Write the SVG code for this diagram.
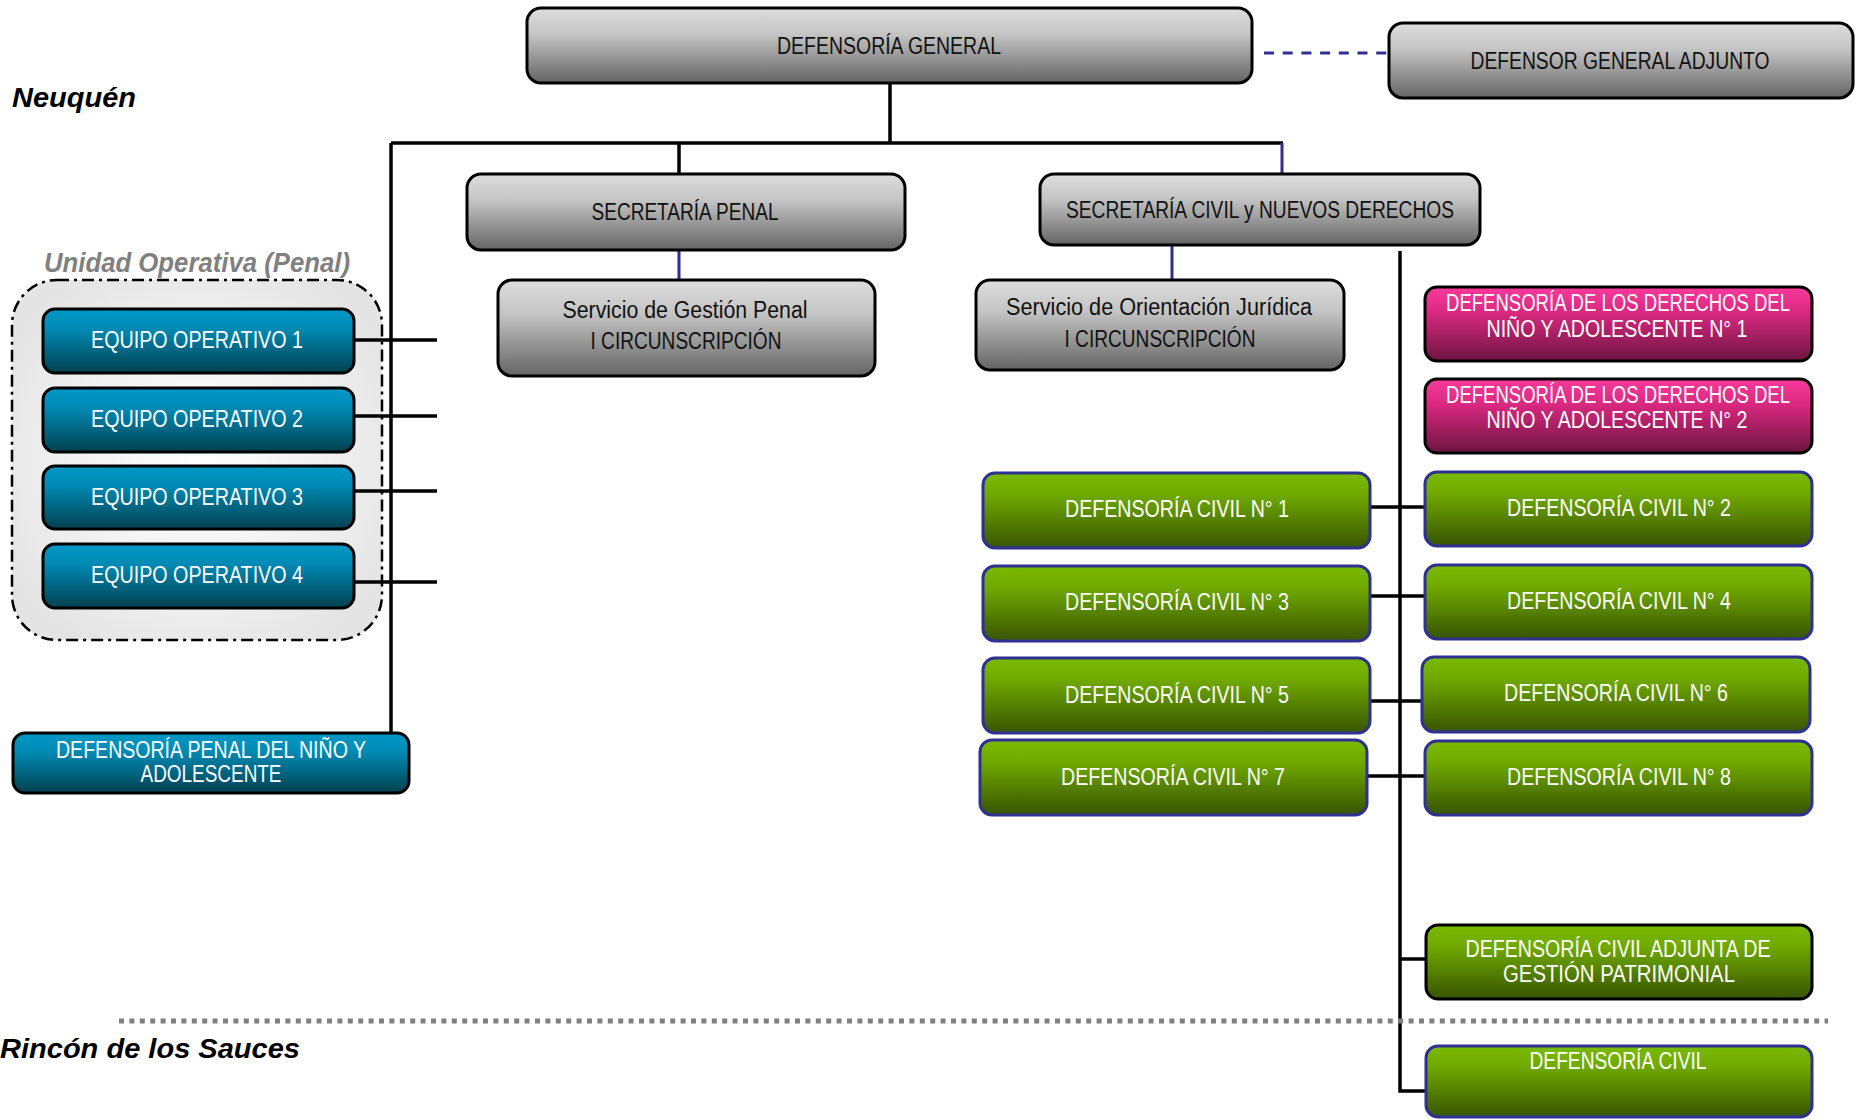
<svg xmlns="http://www.w3.org/2000/svg" width="1858" height="1120" viewBox="0 0 1858 1120">
<defs>
<linearGradient id="gGray" x1="0" y1="0" x2="0" y2="1"><stop offset="0" stop-color="#dedede"/><stop offset="0.35" stop-color="#c4c4c4"/><stop offset="1" stop-color="#646464"/></linearGradient>
<linearGradient id="gBlue" x1="0" y1="0" x2="0" y2="1"><stop offset="0" stop-color="#0098c6"/><stop offset="0.3" stop-color="#008bb5"/><stop offset="1" stop-color="#00404f"/></linearGradient>
<linearGradient id="gPink" x1="0" y1="0" x2="0" y2="1"><stop offset="0" stop-color="#fb3a9c"/><stop offset="0.35" stop-color="#d8287f"/><stop offset="1" stop-color="#6c1440"/></linearGradient>
<linearGradient id="gGreen" x1="0" y1="0" x2="0" y2="1"><stop offset="0" stop-color="#7abb00"/><stop offset="0.3" stop-color="#6fa800"/><stop offset="1" stop-color="#385400"/></linearGradient>
<radialGradient id="gCont" cx="0.5" cy="0.5" r="0.6"><stop offset="0" stop-color="#ffffff"/><stop offset="0.55" stop-color="#f2f2f2"/><stop offset="1" stop-color="#e4e4e4"/></radialGradient>
</defs>
<style>
.box{stroke:#000;stroke-width:3}
.gray{fill:url(#gGray)}
.blue{fill:url(#gBlue)}
.pink{fill:url(#gPink)}
.green{fill:url(#gGreen);stroke:#2e3192}
.greenk{fill:url(#gGreen)}
text{font-family:"Liberation Sans",Arial,sans-serif}
.t{font-size:23px;text-anchor:middle}
.dk{fill:#111}
.wt{fill:#fff}
.lbl{font-size:27px;font-weight:bold;font-style:italic}
.ln{fill:none;stroke:#000;stroke-width:3.5}
.bl{fill:none;stroke:#2e3192;stroke-width:3}
</style>
<rect width="1858" height="1120" fill="#fff"/>

<text class="lbl" x="12" y="107" textLength="124" lengthAdjust="spacingAndGlyphs">Neuquén</text>
<text class="lbl" x="0" y="1058" textLength="300" lengthAdjust="spacingAndGlyphs">Rincón de los Sauces</text>

<g id="unidad-operativa">
<rect x="12" y="280" width="370" height="360" rx="45" fill="url(#gCont)" stroke="#000" stroke-width="2.5" stroke-dasharray="12 5 3 5"/>
<text class="lbl" x="44" y="272" fill="#808080" textLength="306" lengthAdjust="spacingAndGlyphs">Unidad Operativa (Penal)</text>
</g>

<g id="connectors">
<path class="ln" d="M890 83V143M391 143H1283M391 143V733M679 143V174"/>
<path class="bl" d="M1282 143V174M679 250V280M1172 245V280"/>
<path d="M1264 53H1389" fill="none" stroke="#2e3192" stroke-width="3" stroke-dasharray="10 8.7"/>
<path class="ln" d="M354 340H437M354 416H437M354 491H437M354 582H437"/>
<path class="ln" d="M1400 251V1091H1426M1370 507H1425M1370 596H1425M1370 701H1422M1367 776H1425M1400 959H1426"/>
<path d="M119 1021H1828" fill="none" stroke="#808080" stroke-width="5" stroke-dasharray="5 5.4"/>
</g>

<g id="defensoria-general">
<rect class="box gray" x="527" y="8" width="725" height="75" rx="14"/>
<text class="t dk" x="889" y="54" textLength="224" lengthAdjust="spacingAndGlyphs">DEFENSORÍA GENERAL</text>
</g>
<g id="defensor-general-adjunto">
<rect class="box gray" x="1389" y="23" width="464" height="75" rx="14"/>
<text class="t dk" x="1620" y="69" textLength="299" lengthAdjust="spacingAndGlyphs">DEFENSOR GENERAL ADJUNTO</text>
</g>
<g id="secretaria-penal">
<rect class="box gray" x="467" y="174" width="438" height="76" rx="14"/>
<text class="t dk" x="685" y="220" textLength="187" lengthAdjust="spacingAndGlyphs">SECRETARÍA PENAL</text>
</g>
<g id="secretaria-civil">
<rect class="box gray" x="1040" y="174" width="440" height="71" rx="14"/>
<text class="t dk" x="1260" y="218" textLength="388" lengthAdjust="spacingAndGlyphs">SECRETARÍA CIVIL y NUEVOS DERECHOS</text>
</g>
<g id="servicio-gestion-penal">
<rect class="box gray" x="498" y="280" width="377" height="96" rx="14"/>
<text class="t dk" x="685" y="318" textLength="245" lengthAdjust="spacingAndGlyphs">Servicio de Gestión Penal</text>
<text class="t dk" x="686" y="349" textLength="191" lengthAdjust="spacingAndGlyphs">I CIRCUNSCRIPCIÓN</text>
</g>
<g id="servicio-orientacion">
<rect class="box gray" x="976" y="280" width="368" height="90" rx="14"/>
<text class="t dk" x="1159" y="315" textLength="306" lengthAdjust="spacingAndGlyphs">Servicio de Orientación Jurídica</text>
<text class="t dk" x="1160" y="347" textLength="191" lengthAdjust="spacingAndGlyphs">I CIRCUNSCRIPCIÓN</text>
</g>

<g id="equipo-1"><rect class="box blue" x="43" y="309" width="311" height="64" rx="12"/><text class="t wt" x="197" y="348" textLength="212" lengthAdjust="spacingAndGlyphs">EQUIPO OPERATIVO 1</text></g>
<g id="equipo-2"><rect class="box blue" x="43" y="388" width="311" height="64" rx="12"/><text class="t wt" x="197" y="427" textLength="212" lengthAdjust="spacingAndGlyphs">EQUIPO OPERATIVO 2</text></g>
<g id="equipo-3"><rect class="box blue" x="43" y="466" width="311" height="63" rx="12"/><text class="t wt" x="197" y="505" textLength="212" lengthAdjust="spacingAndGlyphs">EQUIPO OPERATIVO 3</text></g>
<g id="equipo-4"><rect class="box blue" x="43" y="544" width="311" height="64" rx="12"/><text class="t wt" x="197" y="583" textLength="212" lengthAdjust="spacingAndGlyphs">EQUIPO OPERATIVO 4</text></g>

<g id="defensoria-penal-nino">
<rect class="box blue" x="13" y="733" width="396" height="60" rx="12"/>
<text class="t wt" x="211" y="758" textLength="310" lengthAdjust="spacingAndGlyphs">DEFENSORÍA PENAL DEL NIÑO Y</text>
<text class="t wt" x="211" y="782" textLength="141" lengthAdjust="spacingAndGlyphs">ADOLESCENTE</text>
</g>

<g id="ddna-1">
<rect class="box pink" x="1425" y="287" width="387" height="74" rx="12"/>
<text class="t wt" x="1618" y="311" textLength="344" lengthAdjust="spacingAndGlyphs">DEFENSORÍA DE LOS DERECHOS DEL</text>
<text class="t wt" x="1617" y="337" textLength="261" lengthAdjust="spacingAndGlyphs">NIÑO Y ADOLESCENTE N° 1</text>
</g>
<g id="ddna-2">
<rect class="box pink" x="1425" y="379" width="387" height="74" rx="12"/>
<text class="t wt" x="1618" y="403" textLength="344" lengthAdjust="spacingAndGlyphs">DEFENSORÍA DE LOS DERECHOS DEL</text>
<text class="t wt" x="1617" y="428" textLength="261" lengthAdjust="spacingAndGlyphs">NIÑO Y ADOLESCENTE N° 2</text>
</g>

<g id="civil-1"><rect class="box green" x="983" y="473" width="387" height="75" rx="12"/><text class="t wt" x="1177" y="517" textLength="224" lengthAdjust="spacingAndGlyphs">DEFENSORÍA CIVIL N° 1</text></g>
<g id="civil-2"><rect class="box green" x="1425" y="472" width="387" height="74" rx="12"/><text class="t wt" x="1619" y="516" textLength="224" lengthAdjust="spacingAndGlyphs">DEFENSORÍA CIVIL N° 2</text></g>
<g id="civil-3"><rect class="box green" x="983" y="566" width="387" height="75" rx="12"/><text class="t wt" x="1177" y="610" textLength="224" lengthAdjust="spacingAndGlyphs">DEFENSORÍA CIVIL N° 3</text></g>
<g id="civil-4"><rect class="box green" x="1425" y="565" width="387" height="74" rx="12"/><text class="t wt" x="1619" y="609" textLength="224" lengthAdjust="spacingAndGlyphs">DEFENSORÍA CIVIL N° 4</text></g>
<g id="civil-5"><rect class="box green" x="983" y="658" width="387" height="75" rx="12"/><text class="t wt" x="1177" y="703" textLength="224" lengthAdjust="spacingAndGlyphs">DEFENSORÍA CIVIL N° 5</text></g>
<g id="civil-6"><rect class="box green" x="1422" y="657" width="388" height="75" rx="12"/><text class="t wt" x="1616" y="701" textLength="224" lengthAdjust="spacingAndGlyphs">DEFENSORÍA CIVIL N° 6</text></g>
<g id="civil-7"><rect class="box green" x="980" y="740" width="387" height="75" rx="12"/><text class="t wt" x="1173" y="785" textLength="224" lengthAdjust="spacingAndGlyphs">DEFENSORÍA CIVIL N° 7</text></g>
<g id="civil-8"><rect class="box green" x="1425" y="741" width="387" height="74" rx="12"/><text class="t wt" x="1619" y="785" textLength="224" lengthAdjust="spacingAndGlyphs">DEFENSORÍA CIVIL N° 8</text></g>

<g id="civil-adjunta">
<rect class="box greenk" x="1426" y="925" width="386" height="74" rx="12"/>
<text class="t wt" x="1618" y="957" textLength="305" lengthAdjust="spacingAndGlyphs">DEFENSORÍA CIVIL ADJUNTA DE</text>
<text class="t wt" x="1619" y="982" textLength="232" lengthAdjust="spacingAndGlyphs">GESTIÓN PATRIMONIAL</text>
</g>
<g id="civil-rincon">
<rect class="box green" x="1426" y="1046" width="386" height="71" rx="12"/>
<text class="t wt" x="1618" y="1069" textLength="177" lengthAdjust="spacingAndGlyphs">DEFENSORÍA CIVIL</text>
</g>
</svg>
